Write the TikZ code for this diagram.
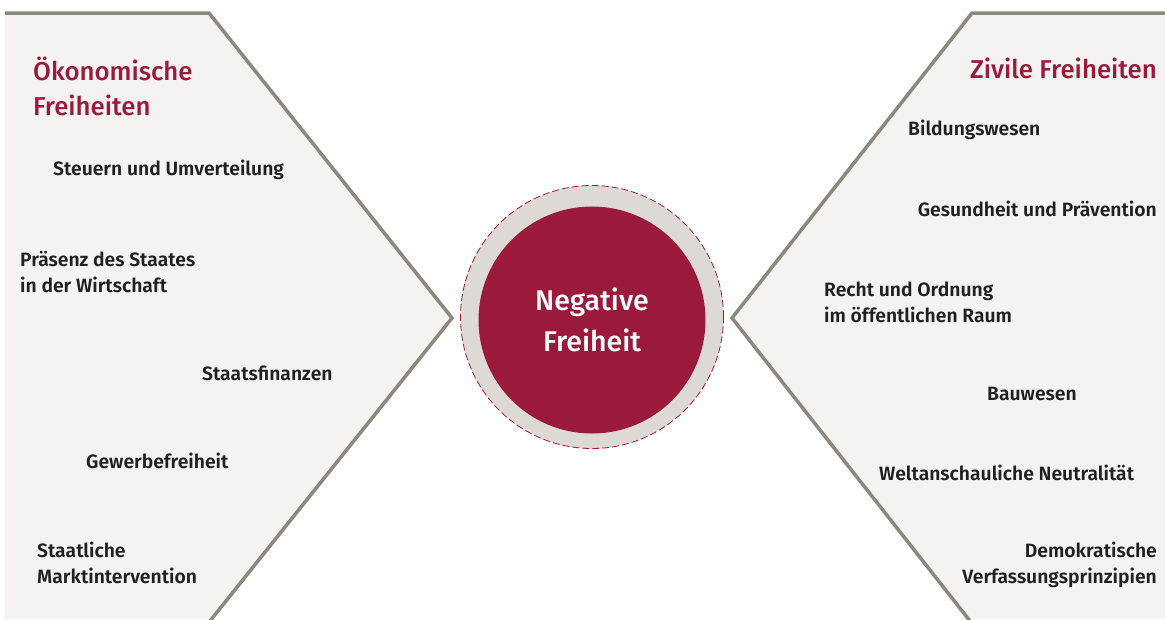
\documentclass[tikz,border=0pt]{standalone}
\usepackage{fontspec}
\setmainfont{Fira Sans}[UprightFont=* Medium, BoldFont=* SemiBold]
\definecolor{fred}{HTML}{9B1A3B}
\definecolor{ring}{HTML}{DDDAD5}
\definecolor{panel}{HTML}{F4F3F2}
\definecolor{edge}{HTML}{8D887D}
\definecolor{ink}{HTML}{231F20}
\tikzset{
  lbl/.style={inner sep=0pt, text=ink, font=\fontsize{19.3}{26}\selectfont\bfseries, align=left},
  lblr/.style={lbl, align=right},
  ttl/.style={inner sep=0pt, text=fred, font=\fontsize{25.8}{35}\selectfont, align=left},
  border/.style={draw=edge, line width=3.5pt, line join=miter},
}
\begin{document}
\begin{tikzpicture}[x=1pt,y=-1pt]
\useasboundingbox (0,0) rectangle (1165,619);
% panels
\fill[panel] (5,13) -- (209,13) -- (452,318) -- (210,619) -- (5,619) -- cycle;
\draw[border] (5,13) -- (209,13) -- (452,318) -- (210,621);
\fill[panel] (1165,13) -- (972,13) -- (732,318) -- (970,619) -- (1165,619) -- cycle;
\draw[border] (1165,13) -- (972,13) -- (732,318) -- (970,621);
% center
\node[circle, fill=ring, draw=fred, line width=0.8pt, dash pattern=on 7pt off 3pt, minimum size=263pt, inner sep=0pt] (outer) at (592,317) {};
\node[circle, fill=fred, minimum size=227pt, inner sep=0pt, text=white, font=\fontsize{28.5}{41}\selectfont, align=center] (core) at (592,320) {Negative\\Freiheit};
% left
\node[ttl, anchor=west] (t1) at (33,86) {Ökonomische\\Freiheiten};
\node[lbl, anchor=west] (l1) at (53,170) {Steuern und Umverteilung};
\node[lbl, anchor=west] (l2) at (20,272) {Präsenz des Staates\\in der Wirtschaft};
\node[lbl, anchor=west] (l3) at (202,373) {Staatsfinanzen};
\node[lbl, anchor=west] (l4) at (86,461) {Gewerbefreiheit};
\node[lbl, anchor=west] (l5) at (37,563) {Staatliche\\Marktintervention};
% right
\node[ttl, anchor=east] (t2) at (1157,68) {Zivile Freiheiten};
\node[lbl, anchor=west] (r1) at (908,130) {Bildungswesen};
\node[lbl, anchor=east] (r2) at (1157,209) {Gesundheit und Prävention};
\node[lbl, anchor=west] (r3) at (824,302) {Recht und Ordnung\\im öffentlichen Raum};
\node[lbl, anchor=west] (r4) at (987,394) {Bauwesen};
\node[lbl, anchor=west] (r5) at (879,473) {Weltanschauliche Neutralität};
\node[lblr, anchor=east] (r6) at (1157,565) {Demokratische\\Verfassungsprinzipien};
\end{tikzpicture}
\end{document}
